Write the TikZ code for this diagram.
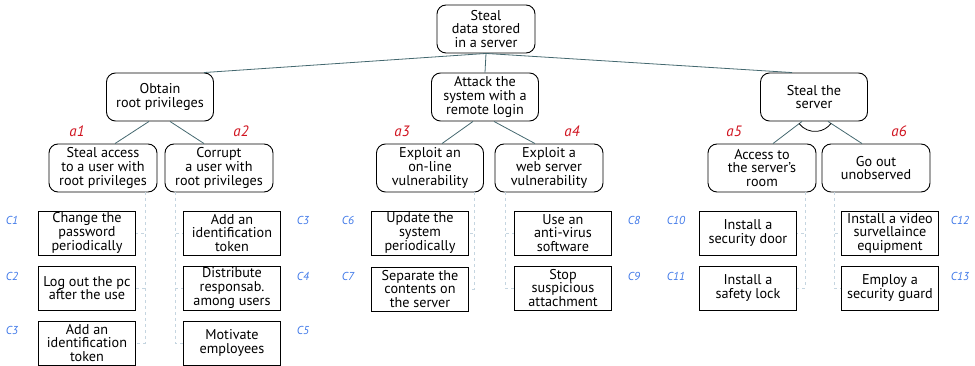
\documentclass[tikz,border=0pt]{standalone}
\usepackage{fontspec}
\setmainfont{PT Sans}
\usetikzlibrary{positioning, calc}
\definecolor{edgecol}{HTML}{44686F}
\definecolor{ctrlcol}{HTML}{C5D5E0}
\definecolor{atkred}{HTML}{D0121E}
\definecolor{ctrlblue}{HTML}{3F78E8}

\begin{document}
\begin{tikzpicture}[
  x=1pt, y=-1pt,
  goal/.style={draw, rounded corners=9pt, align=center, line width=0.9pt,
               minimum width=107pt, minimum height=48pt, inner sep=0pt,
               font=\fontsize{14.2}{13.6}\selectfont},
  ctrl/.style={draw, align=center, line width=0.9pt,
               minimum width=97pt, minimum height=44pt, inner sep=0pt,
               font=\fontsize{14.2}{13.6}\selectfont},
  edge/.style={draw=edgecol, line width=0.8pt},
  link/.style={draw=ctrlcol, dashed, line width=0.8pt},
  alab/.style={font=\fontsize{15}{15}\selectfont\itshape, text=atkred},
  clab/.style={font=\fontsize{11.5}{11.5}\selectfont\itshape, text=ctrlblue}
]
  \useasboundingbox (0,0) rectangle (975,366);

  % Goal
  \node[goal, minimum width=98pt] (root) at (486,29) {Steal\\data stored\\in a server};

  % Attacks
  \node[goal] (obt) at (160,97) {Obtain\\root privileges};
  \node[goal] (rem) at (485,97) {Attack the\\system with a\\remote login};
  \node[goal] (srv) at (814,97) {Steal the\\server};

  \draw[edge] (root.south) -- ([xshift=44pt]obt.north);
  \draw[edge] (root.south) -- (rem.north);
  \draw[edge] (root.south) -- ([xshift=-22pt]srv.north);

  % Sub-attacks
  \node[goal, minimum width=108pt] (acc) at (103,168) {Steal access\\to a user with\\root privileges};
  \node[goal, minimum width=108pt] (cor) at (219,168) {Corrupt\\a user with\\root privileges};
  \node[goal] (onl) at (430,168) {Exploit an\\on-line\\vulnerability};
  \node[goal, minimum width=108pt] (web) at (549,168) {Exploit a\\web server\\vulnerability};
  \node[goal, minimum width=108pt] (room) at (762,168) {Access to\\the server's\\room};
  \node[goal, minimum width=108pt] (unob) at (876,168) {Go out\\unobserved};

  \draw[edge] ([xshift=-11pt]obt.south) -- ([xshift=12pt]acc.north);
  \draw[edge] ([xshift=10pt]obt.south) -- ([xshift=-15pt]cor.north);
  \draw[edge] ([xshift=-12pt]rem.south) -- ([xshift=12pt]onl.north);
  \draw[edge] ([xshift=9pt]rem.south) -- ([xshift=-14pt]web.north);
  \draw[edge] ([xshift=-12pt]srv.south) -- ([xshift=11pt]room.north);
  \draw[edge] ([xshift=14pt]srv.south) -- ([xshift=-14pt]unob.north);
  % AND arc
  \draw[line width=0.8pt] ([xshift=1pt,yshift=10pt]srv.south) ++(217:20pt)
    arc[start angle=217, end angle=323, radius=20pt];

  \node[alab] (a1) at (77,131) {a1};
  \node[alab] (a2) at (241,131) {a2};
  \node[alab] (a3) at (402,131) {a3};
  \node[alab] (a4) at (572,131) {a4};
  \node[alab] (a5) at (734,131) {a5};
  \node[alab] (a6) at (899,131) {a6};

  % Countermeasures
  \node[ctrl] (c1) at (87,233) {Change the\\password\\periodically};
  \node[ctrl] (c2) at (87,288) {Log out the pc\\after the use};
  \node[ctrl] (c3) at (87,343) {Add an\\identification\\token};
  \node[ctrl] (c3b) at (232,233) {Add an\\identification\\token};
  \node[ctrl] (c4) at (232,288) {Distribute\\responsab.\\among users};
  \node[ctrl] (c5) at (232,343) {Motivate\\employees};
  \node[ctrl] (c6) at (420,233) {Update the\\system\\periodically};
  \node[ctrl] (c7) at (420,289) {Separate the\\contents on\\the server};
  \node[ctrl] (c8) at (563,233) {Use an\\anti-virus\\software};
  \node[ctrl] (c9) at (563,288) {Stop\\suspicious\\attachment};
  \node[ctrl] (c10) at (748,233) {Install a\\security door};
  \node[ctrl] (c11) at (748,288) {Install a\\safety lock};
  \node[ctrl] (c12) at (890,233) {Install a video\\survellaince\\equipment};
  \node[ctrl] (c13) at (890,288) {Employ a\\security guard};

  \foreach \c in {c1,c2,c3} \draw[link] ([xshift=42pt]acc.south) |- (\c.east);
  \foreach \c in {c3b,c4,c5} \draw[link] ([xshift=-44pt]cor.south) |- (\c.west);
  \foreach \c in {c6,c7} \draw[link] ([xshift=44pt]onl.south) |- (\c.east);
  \foreach \c in {c8,c9} \draw[link] ([xshift=-44pt]web.south) |- (\c.west);
  \foreach \c in {c10,c11} \draw[link] ([xshift=43pt]room.south) |- (\c.east);
  \foreach \c in {c12,c13} \draw[link] ([xshift=-42pt]unob.south) |- (\c.west);

  \node[clab] (l1) at (12,220) {C1};
  \node[clab] (l2) at (12,276) {C2};
  \node[clab] (l3) at (12,330) {C3};
  \node[clab] (l3b) at (303,220) {C3};
  \node[clab] (l4) at (303,276) {C4};
  \node[clab] (l5) at (303,330) {C5};
  \node[clab] (l6) at (348,220) {C6};
  \node[clab] (l7) at (348,276) {C7};
  \node[clab] (l8) at (634,220) {C8};
  \node[clab] (l9) at (634,276) {C9};
  \node[clab] (l10) at (676,220) {C10};
  \node[clab] (l11) at (676,276) {C11};
  \node[clab] (l12) at (960,220) {C12};
  \node[clab] (l13) at (960,276) {C13};
\end{tikzpicture}
\end{document}
